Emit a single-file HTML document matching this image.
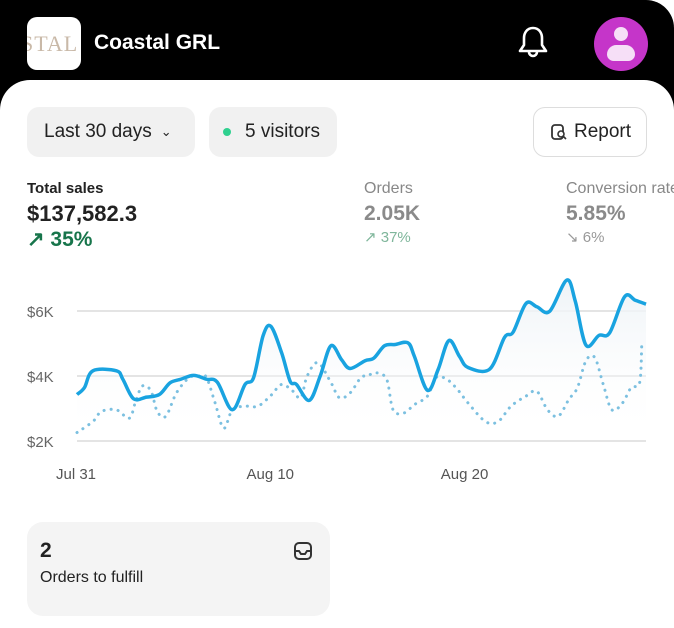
<!DOCTYPE html>
<html><head><meta charset="utf-8"><style>
*{margin:0;padding:0;box-sizing:border-box}
body{width:674px;height:628px;overflow:hidden;background:#fff;font-family:"Liberation Sans",sans-serif;position:relative}
#hdr{position:absolute;left:0;top:0;width:674px;height:120px;background:#000;border-top-right-radius:28px}
#panel{position:absolute;left:0;top:80px;width:674px;height:548px;background:#fff;border-radius:30px 30px 0 0}
.abs{position:absolute}
.pill{position:absolute;top:107px;height:50px;background:#f1f1f1;border-radius:12px;font-size:19px;color:#222;display:flex;align-items:center}
</style></head><body>
<div id="hdr">
 <div class="abs" style="left:27px;top:17px;width:54px;height:53px;background:#fff;border-radius:10px;overflow:hidden;font-family:'Liberation Serif',serif;font-size:22px;color:#c9b9a8;line-height:53px;letter-spacing:1px;text-indent:-6px">STAL</div>
 <div class="abs" style="left:94px;top:31px;color:#fff;font-size:21px;font-weight:bold">Coastal GRL</div>
 <svg class="abs" style="left:515px;top:24px" width="36" height="40" viewBox="0 0 36 40"><path d="M18 4c-6 0-9 5-9 10v7l-4 6h26l-4-6v-7c0-5-3-10-9-10z" fill="none" stroke="#fff" stroke-width="2.6" stroke-linejoin="round"/><path d="M14 28a4 4 0 0 0 8 0" fill="none" stroke="#fff" stroke-width="2.6"/></svg>
 <div class="abs" style="left:594px;top:17px;width:54px;height:54px;border-radius:50%;background:#c535c9;overflow:hidden">
  <div class="abs" style="left:20px;top:10px;width:14px;height:14px;border-radius:50%;background:#f6dff7"></div>
  <div class="abs" style="left:13px;top:28px;width:28px;height:16px;border-radius:14px 14px 10px 10px;background:#f6dff7"></div>
 </div>
</div>
<div id="panel"></div>
<div class="pill" style="left:27px;width:168px;padding-left:17px">Last 30 days <span style="margin-left:9px;font-size:13px">&#8964;</span></div>
<div class="pill" style="left:209px;width:128px;padding-left:14px"><span style="width:8px;height:8px;border-radius:50%;background:#2fd08f;margin-right:14px;display:inline-block"></span>5 visitors</div>
<div class="pill" style="left:533px;width:114px;background:#fff;border:1.5px solid #ddd;padding-left:16px"><svg width="18" height="18" viewBox="0 0 18 18" style="margin-right:6px"><rect x="2" y="2" width="11" height="14" rx="3" fill="none" stroke="#333" stroke-width="1.8"/><circle cx="11" cy="11" r="3" fill="#fff" stroke="#333" stroke-width="1.6"/><line x1="13" y1="13" x2="16" y2="16" stroke="#333" stroke-width="1.6"/></svg>Report</div>

<div class="abs" style="left:27px;top:180px;font-size:15px;font-weight:bold;color:#222">Total sales</div>
<div class="abs" style="left:27px;top:201px;font-size:22px;font-weight:bold;color:#222">$137,582.3</div>
<div class="abs" style="left:27px;top:227px;font-size:21px;color:#17754b;font-weight:bold">&#8599; 35%</div>
<div class="abs" style="left:364px;top:180px;font-size:16px;color:#888">Orders</div>
<div class="abs" style="left:364px;top:202px;font-size:21px;font-weight:bold;color:#8a8a8a">2.05K</div>
<div class="abs" style="left:364px;top:228px;font-size:15px;color:#7fb69b">&#8599; 37%</div>
<div class="abs" style="left:566px;top:180px;font-size:16px;color:#888;white-space:nowrap">Conversion rate</div>
<div class="abs" style="left:566px;top:202px;font-size:21px;font-weight:bold;color:#8a8a8a">5.85%</div>
<div class="abs" style="left:566px;top:228px;font-size:15px;color:#999">&#8600; 6%</div>

<svg id="chart" class="abs" style="left:0;top:270px" width="674" height="220"></svg>

<div class="abs" style="left:27px;top:522px;width:303px;height:94px;background:#f4f4f4;border-radius:16px">
 <div class="abs" style="left:13px;top:17px;font-size:21px;font-weight:bold;color:#222">2</div>
 <div class="abs" style="left:13px;top:47px;font-size:16px;color:#222">Orders to fulfill</div>
 <svg class="abs" style="left:266px;top:19px" width="20" height="20" viewBox="0 0 20 20"><rect x="2" y="2" width="16" height="16" rx="4" fill="none" stroke="#333" stroke-width="2"/><path d="M2 10h4l2 3h4l2-3h4" fill="none" stroke="#333" stroke-width="2"/></svg>
</div>

<script>
const yTicks=[2,4,6];
const yTickLabels=["$2K","$4K","$6K"];
const xTickDays=[0,10,20];
const xTickLabels=["Jul 31","Aug 10","Aug 20"];
const salesDays=[0,0.38,0.82,2.03,2.36,2.91,3.58,4.24,4.79,5.34,6.0,6.67,7.22,7.99,8.65,9.09,9.58,9.98,10.53,10.97,11.3,11.96,12.52,13.07,13.62,14.06,14.83,15.28,15.83,16.38,17.04,17.37,18.04,18.59,19.14,19.69,20.13,21.24,22.01,22.45,23.11,23.67,24.33,25.21,25.65,26.2,26.87,27.42,28.19,28.74,29.29];
const salesValues=[3.43,3.64,4.16,4.16,3.9,3.3,3.35,3.43,3.79,3.9,4.02,3.9,3.81,2.96,3.74,3.95,5.24,5.53,4.72,3.84,3.74,3.25,4.0,4.93,4.5,4.23,4.47,4.55,4.93,4.97,5.02,4.6,3.56,4.2,5.09,4.6,4.26,4.21,5.19,5.35,6.23,6.13,5.99,6.95,6.3,4.95,5.25,5.33,6.44,6.33,6.21];
const prevDays=[0,0.82,1.26,2.03,2.69,3.02,3.36,3.8,4.13,4.57,5.12,5.78,6.34,6.67,7.11,7.55,8.0,8.65,9.31,9.98,10.53,11.08,11.52,11.85,12.4,13.07,13.51,14.06,14.61,14.94,15.39,15.94,16.27,16.82,17.37,18.04,18.48,19.03,19.58,20.13,21.02,21.68,22.34,23.11,23.67,24.22,24.77,25.32,25.76,26.2,26.65,27.09,27.53,28.08,28.52,28.96,29.07];
const prevValues=[2.26,2.6,2.91,2.96,2.7,3.22,3.69,3.55,2.91,2.76,3.48,3.95,4.0,3.95,3.17,2.39,2.96,3.07,3.07,3.4,3.74,3.55,3.33,4.0,4.41,3.8,3.33,3.48,3.95,4.0,4.1,3.9,2.96,2.86,3.12,3.38,3.95,3.9,3.59,3.17,2.6,2.6,3.07,3.38,3.53,2.96,2.76,3.28,3.64,4.47,4.57,3.74,2.96,3.17,3.64,3.79,4.93,5.09];
const svg=document.getElementById('chart');
const NS='http://www.w3.org/2000/svg';
const X0=77,X1=646,maxDay=29.29;
const xs=d=>X0+(d/maxDay)*(X1-X0);
const ys=v=>171-(v-2)*32.5;
function mk(t,a){const e=document.createElementNS(NS,t);for(const k in a)e.setAttribute(k,a[k]);svg.appendChild(e);return e;}
function smooth(days,vals){
 const p=days.map((d,i)=>[xs(d),ys(vals[i])]);
 let s='M'+p[0][0]+','+p[0][1];
 for(let i=0;i<p.length-1;i++){
  const a=p[i-1]||p[i],b=p[i],c=p[i+1],d=p[i+2]||c;
  s+=' C'+(b[0]+(c[0]-a[0])/6)+','+(b[1]+(c[1]-a[1])/6)+' '+(c[0]-(d[0]-b[0])/6)+','+(c[1]-(d[1]-b[1])/6)+' '+c[0]+','+c[1];
 }
 return s;
}
const defs=mk('defs',{});
defs.innerHTML='<linearGradient id="g" x1="0" y1="0" x2="0" y2="1"><stop offset="0" stop-color="#eef3f7"/><stop offset="1" stop-color="#fff" stop-opacity="0"/></linearGradient>';
yTicks.forEach((t,i)=>{
 const l=mk('line',{x1:X0,x2:X1,y1:ys(t),y2:ys(t),stroke:'#dcdcdc','stroke-width':1.5});
 
 
 const tx=mk('text',{x:27,y:ys(t)+6,'font-size':15,fill:'#666','font-family':'Liberation Sans'});
 tx.textContent=yTickLabels[i];
 
 
});
xTickDays.forEach((d,i)=>{
 const tx=mk('text',{x:xs(d)-1,y:209,'font-size':15,fill:'#555','text-anchor':'middle','font-family':'Liberation Sans'});
 tx.textContent=xTickLabels[i];
 
 
});
const sp=smooth(salesDays,salesValues);
const area=mk('path',{d:sp+' L'+xs(salesDays[salesDays.length-1])+','+ys(2)+' L'+xs(0)+','+ys(2)+'Z',fill:'url(#g)'});


const pl=mk('path',{d:smooth(prevDays,prevValues),fill:'none',stroke:'#7cc0e0','stroke-width':3,'stroke-dasharray':'0.1 7','stroke-linecap':'round'});


const sl=mk('path',{d:sp,fill:'none',stroke:'#19a3e0','stroke-width':3.5,'stroke-linejoin':'round'});


</script>
</body></html>
